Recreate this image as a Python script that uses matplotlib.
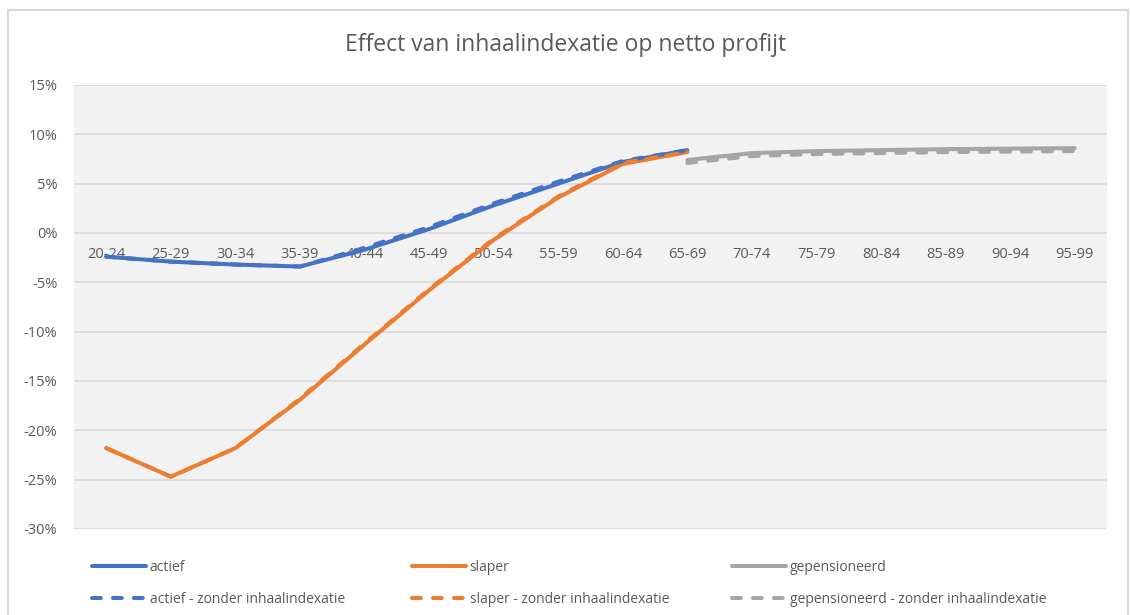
import matplotlib

matplotlib.use('Agg')
from matplotlib import pyplot as plt
from matplotlib.patches import Rectangle
from matplotlib.ticker import FuncFormatter

# age groups on the category axis
leeftijden = ['20-24', '25-29', '30-34', '35-39', '40-44', '45-49', '50-54', '55-59',
              '60-64', '65-69', '70-74', '75-79', '80-84', '85-89', '90-94', '95-99']

# values in %, first 10 groups for actief/slaper, last 7 for gepensioneerd
actief = [-2.4, -2.9, -3.2, -3.4, -1.7, 0.4, 2.8, 5.0, 7.2, 8.4]
slaper = [-21.8, -24.7, -21.8, -16.9, -11.3, -5.8, -0.7, 3.6, 7.0, 8.2]
gepensioneerd = [7.4, 8.1, 8.3, 8.4, 8.5, 8.55, 8.6]
actief_zonder = [-2.4, -2.9, -3.2, -3.4, -1.5, 0.6, 3.0, 5.2, 7.3, 8.4]
slaper_zonder = [-21.8, -24.7, -21.8, -16.8, -11.2, -5.7, -0.6, 3.7, 7.1, 8.2]
gepensioneerd_zonder = [7.1, 7.8, 8.0, 8.1, 8.2, 8.25, 8.3]

blauw = '#4472C4'
oranje = '#ED7D31'
grijs = '#A5A5A5'
tekst = '#595959'
font = 'Open Sans'

fig = plt.figure(figsize=(11.31, 6.15), dpi=100)
ax = fig.add_axes([74 / 1131, 86 / 615, 1033 / 1131, 444 / 615])
ax.set_facecolor('#F2F2F2')

# outer chart border
fig.patches.append(Rectangle((8 / 1131, -0.05), 1120 / 1131, 1.05 - 10 / 615,
                             transform=fig.transFigure, fill=False,
                             edgecolor='#D9D9D9', linewidth=1.5))

x_act = list(range(len(actief)))
x_gep = list(range(9, 9 + len(gepensioneerd)))

lw = 2.9
streep = (2.2, 3.0)
lijnen = []
lijnen.append(ax.plot(x_act, actief, color=blauw, lw=lw, solid_capstyle='round',
                      label='actief')[0])
lijnen.append(ax.plot(x_act, slaper, color=oranje, lw=lw, solid_capstyle='round',
                      label='slaper')[0])
lijnen.append(ax.plot(x_gep, gepensioneerd, color=grijs, lw=lw, solid_capstyle='round',
                      label='gepensioneerd')[0])
lijnen.append(ax.plot(x_act, actief_zonder, color=blauw, lw=lw, dashes=streep,
                      dash_capstyle='round', label='actief - zonder inhaalindexatie')[0])
lijnen.append(ax.plot(x_act, slaper_zonder, color=oranje, lw=lw, dashes=streep,
                      dash_capstyle='round', label='slaper - zonder inhaalindexatie')[0])
lijnen.append(ax.plot(x_gep, gepensioneerd_zonder, color=grijs, lw=lw, dashes=streep,
                      dash_capstyle='round', label='gepensioneerd - zonder inhaalindexatie')[0])

ax.set_xlim(-0.5, len(leeftijden) - 0.5)
ax.set_ylim(-30, 15)
ax.set_yticks(range(-30, 16, 5))
ax.yaxis.set_major_formatter(FuncFormatter(lambda v, p: '%d%%' % v))
ax.grid(axis='y', color='#D9D9D9', lw=1.2)
ax.set_axisbelow(True)

ax.set_xticks(range(len(leeftijden)))
ax.set_xticklabels(leeftijden)
ax.spines['bottom'].set_position(('data', 0))
for s in ['top', 'right', 'left', 'bottom']:
  ax.spines[s].set_visible(False)
ax.tick_params(axis='x', length=0, pad=10, labelsize=10.5, labelcolor=tekst)
ax.tick_params(axis='y', length=0, pad=12, labelsize=10.5, labelcolor=tekst)
for lab in ax.get_xticklabels() + ax.get_yticklabels():
  lab.set_fontfamily(font)

fig.text(0.5, 1 - 45 / 615, 'Effect van inhaalindexatie op netto profijt',
         ha='center', va='center', fontsize=16.5, color=tekst, family=font)

# three legend columns, each with solid + dashed entry
kolommen = [(0, 3), (1, 4), (2, 5)]
x_pos = [92, 412, 732]
for (a, b), xp in zip(kolommen, x_pos):
  leg = fig.legend([lijnen[a], lijnen[b]], [lijnen[a].get_label(), lijnen[b].get_label()],
                   loc='upper left', bbox_to_anchor=(xp / 1131, 1 - 560 / 615),
                   frameon=False, handlelength=3.9, handletextpad=0.25,
                   labelspacing=1.2, borderaxespad=0, borderpad=0,
                   prop={'family': font, 'size': 10})
  for t in leg.get_texts():
    t.set_color(tekst)

plt.savefig('out.png', dpi=100)
